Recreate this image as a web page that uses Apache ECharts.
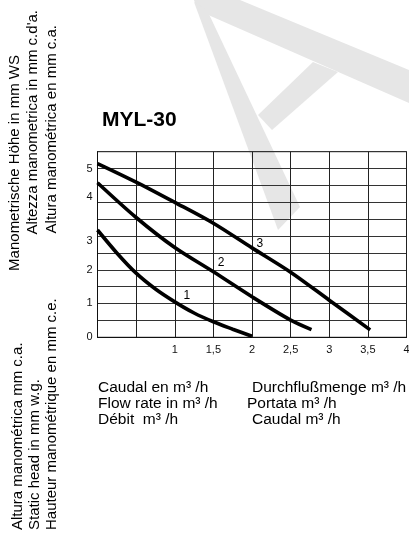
<!DOCTYPE html>
<html><head><meta charset="utf-8">
<script src="https://cdn.jsdelivr.net/npm/echarts@6/dist/echarts.min.js"></script>
<style>html,body{margin:0;padding:0;background:#fff}#c{width:409px;height:536px}</style>
</head><body><div id="c"></div>
<script>
// ---- data (flow m3/h, head) ----
const curveNames = ['1', '2', '3'];
const flow1 = [0, 0.25, 0.5, 0.75, 1, 1.25, 1.5, 1.75, 2.0];
const head1 = [3.18, 2.5, 1.9, 1.43, 1.05, 0.72, 0.46, 0.24, 0.03];
const flow2 = [0, 0.5, 1, 1.5, 2, 2.5, 2.77];
const head2 = [4.58, 3.55, 2.66, 1.94, 1.2, 0.51, 0.23];
const flow3 = [0, 0.5, 1, 1.5, 2, 2.5, 3, 3.53];
const head3 = [5.15, 4.6, 4.0, 3.38, 2.65, 1.93, 1.1, 0.22];
const curveLabelAt = [[1.155, 1.23], [1.6, 2.21], [2.1, 2.78]];
const xTickValues = [1, 1.5, 2, 2.5, 3, 3.5, 4];
const xTickLabels = ['1', '1,5', '2', '2,5', '3', '3,5', '4'];
const yTickValues = [0, 1.02, 2.0, 2.85, 4.17, 5.0];
const yTickLabels = ['0', '1', '2', '3', '4', '5'];
const titleText = 'MYL-30';
const sideTop = ['Manometrische Höhe in mm WS', "Altezza manometrica in mm c.d'a.", 'Altura manométrica en mm c.a.'];
const sideBottom = ['Altura manométrica mm c.a.', 'Static head in mm w.g.', 'Hauteur manométrique en mm c.e.'];
const flowLeft = ['Caudal en m³ /h', 'Flow rate in m³ /h', 'Débit  m³ /h'];
const flowRight = ['Durchflußmenge m³ /h', 'Portata m³ /h', 'Caudal m³ /h'];

const FONT = '"Liberation Sans", Arial, Helvetica, sans-serif';
const flows = [flow1, flow2, flow3];
const heads = [head1, head2, head3];

function fmt(values, labels) {
  return function (v) {
    const i = values.findIndex(t => Math.abs(t - v) < 1e-6);
    return i >= 0 ? labels[i] : '';
  };
}

const graphics = [];
// watermark
const wm = '#e6e6e6';
graphics.push({type: 'polygon', z: -10, silent: true, shape: {points: [[194, 0], [240, 0], [409, 70], [409, 103], [206, 14], [196, 6]]}, style: {fill: wm}});
graphics.push({type: 'polygon', z: -10, silent: true, shape: {points: [[194, 2], [207, 10], [300, 207], [278, 230]]}, style: {fill: wm}});
graphics.push({type: 'polygon', z: -10, silent: true, shape: {points: [[313, 62], [338, 72], [272, 130], [258, 115]]}, style: {fill: wm}});

const topX = [14.5, 33, 51.5], topEnd = [55, 10, 25];
sideTop.forEach((t, i) => graphics.push({
  type: 'text', x: topX[i], y: topEnd[i], rotation: Math.PI / 2,
  style: {text: t, fontSize: 15, fontFamily: FONT, fill: '#000', align: 'right', verticalAlign: 'middle'}
}));
const botX = [17.5, 34.5, 52];
sideBottom.forEach((t, i) => graphics.push({
  type: 'text', x: botX[i], y: 530, rotation: Math.PI / 2,
  style: {text: t, fontSize: 15, fontFamily: FONT, fill: '#000', align: 'left', verticalAlign: 'middle'}
}));
const rowY = [388, 404, 420];
const rightX = [252, 247, 252];
flowLeft.forEach((t, i) => graphics.push({
  type: 'text', x: 98, y: rowY[i],
  style: {text: t, fontSize: 15.5, fontFamily: FONT, fill: '#000', align: 'left', verticalAlign: 'middle'}
}));
flowRight.forEach((t, i) => graphics.push({
  type: 'text', x: rightX[i], y: rowY[i],
  style: {text: t, fontSize: 15.5, fontFamily: FONT, fill: '#000', align: 'left', verticalAlign: 'middle'}
}));

const series = curveNames.map((n, k) => ({
  type: 'line', name: n,
  data: flows[k].map((x, i) => [x, heads[k][i]]),
  showSymbol: false, smooth: 0.3,
  lineStyle: {width: 3.6, color: '#000'},
  z: 5,
  markPoint: {
    symbol: 'circle', symbolSize: 1, itemStyle: {color: 'rgba(0,0,0,0)'},
    label: {show: true, position: 'inside', formatter: '{c}', color: '#000', fontSize: 12, fontFamily: FONT},
    data: [{coord: curveLabelAt[k], value: n}]
  }
}));

const chart = echarts.init(document.getElementById('c'), null, {renderer: 'canvas'});
chart.setOption({
  animation: false,
  backgroundColor: '#fff',
  textStyle: {fontFamily: FONT},
  title: {text: titleText, left: 102, top: 110, padding: 0,
    textStyle: {fontSize: 21, fontWeight: 'bold', color: '#000', fontFamily: FONT}},
  grid: {left: 97.5, top: 151.7, right: 2.5, bottom: 198.7, show: true,
    borderColor: '#111', borderWidth: 1, containLabel: false, outerBoundsMode: 'none'},
  xAxis: {
    type: 'value', min: 0, max: 4, interval: 0.5,
    axisLine: {show: true, lineStyle: {color: '#111', width: 1}},
    axisTick: {show: false},
    splitLine: {show: true, lineStyle: {color: '#222', width: 1}},
    axisLabel: {customValues: xTickValues, formatter: fmt(xTickValues, xTickLabels),
      color: '#111', fontSize: 11, margin: 7}
  },
  yAxis: {
    type: 'value', min: 0, max: 5.5, interval: 0.5,
    axisLine: {show: true, lineStyle: {color: '#111', width: 1}},
    axisTick: {show: false},
    splitLine: {show: true, lineStyle: {color: '#333', width: 1}},
    axisLabel: {customValues: yTickValues, formatter: fmt(yTickValues, yTickLabels),
      color: '#111', fontSize: 11, margin: 5}
  },
  graphic: graphics,
  series: series
});
</script></body></html>
